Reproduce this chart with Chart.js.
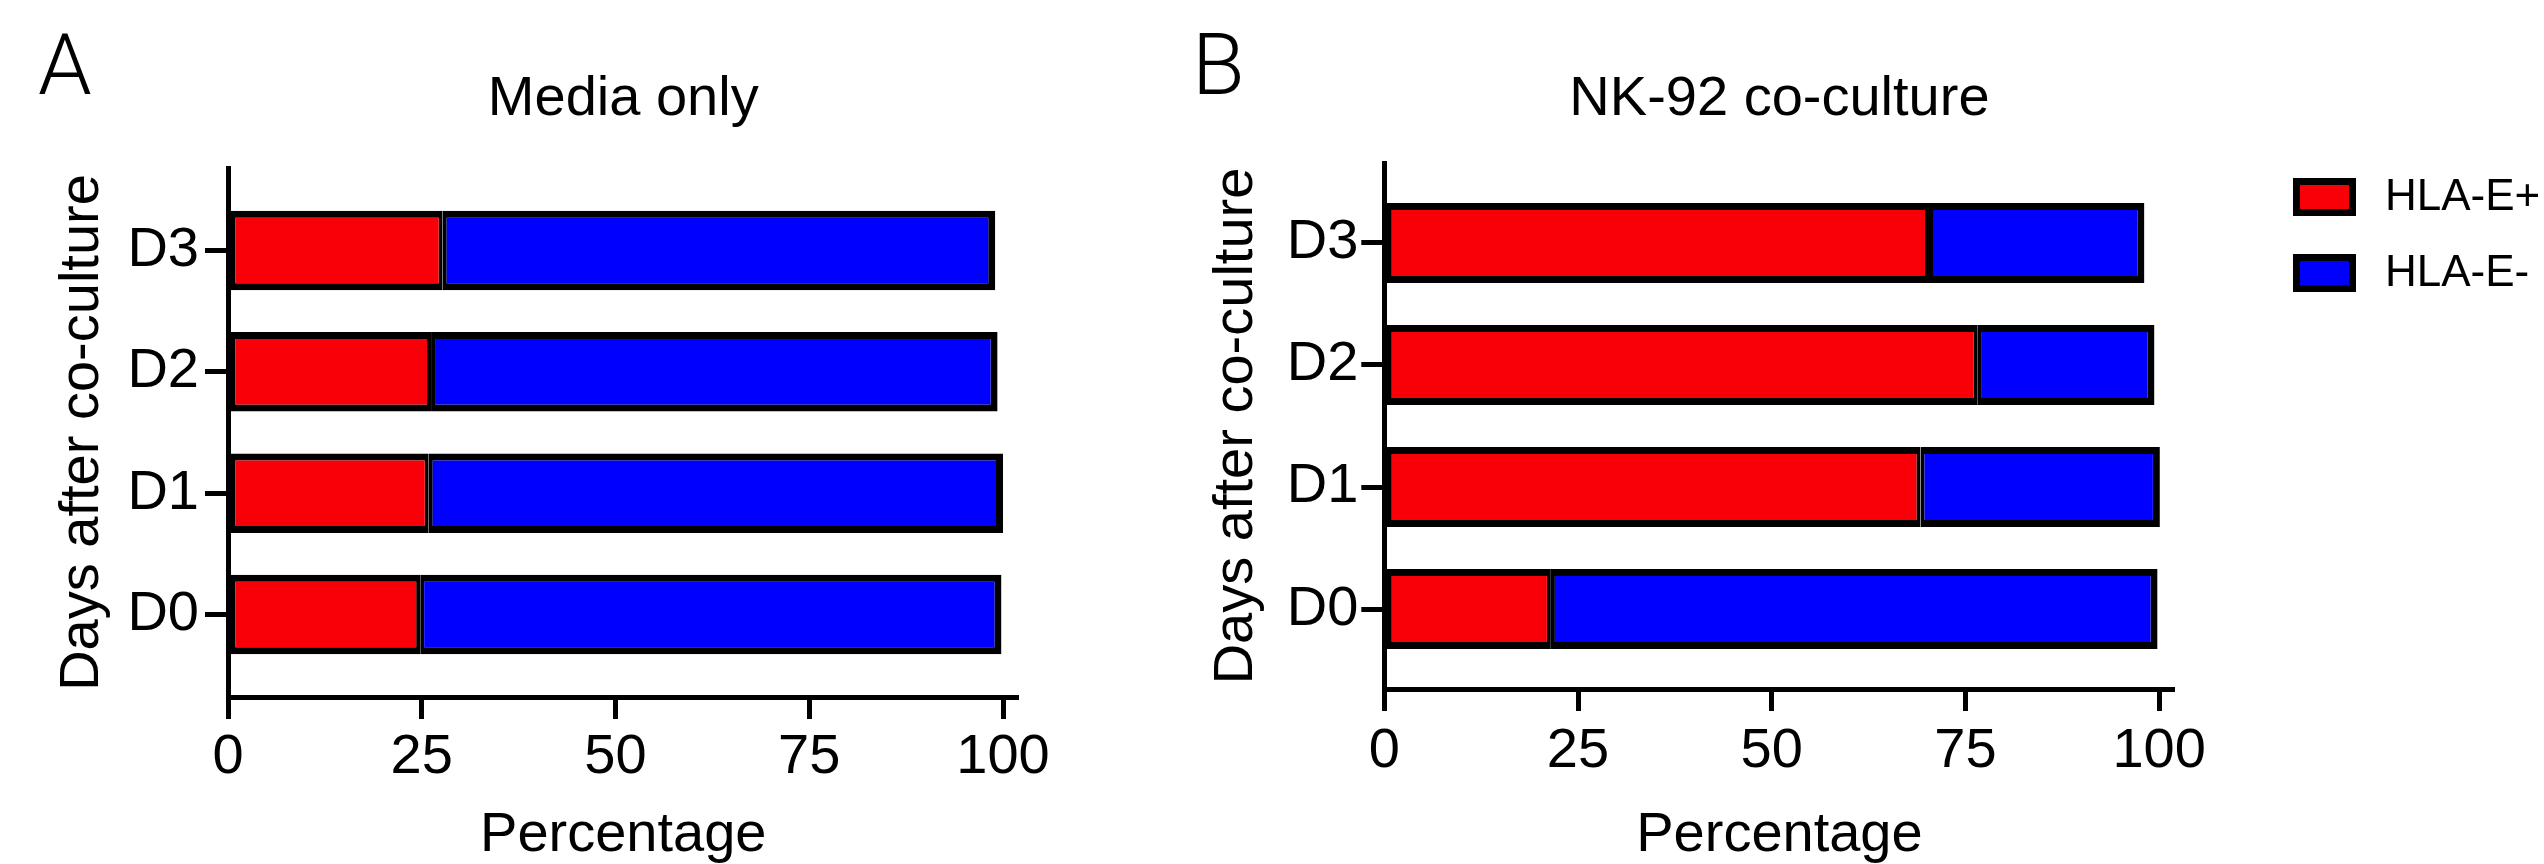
<!DOCTYPE html>
<html>
<head>
<meta charset="utf-8">
<script src="https://cdn.jsdelivr.net/npm/chart.js@4.4.1/dist/chart.umd.min.js"></script>
<style>
  html, body { margin: 0; padding: 0; background: #fff; overflow: hidden; }
  #wrap { position: relative; width: 2544px; height: 864px; }
  canvas { position: absolute; top: 0; }
  #chartA { left: 0; }
  #chartB { left: 1180px; }
</style>
</head>
<body>
<div id="wrap">
  <canvas id="chartA" width="1180" height="864"></canvas>
  <canvas id="chartB" width="1364" height="864"></canvas>
</div>
<script>
// Dados (percentagem de células)
const days = ['D0', 'D1', 'D2', 'D3'];
const seriesNames = ['HLA-E+', 'HLA-E-'];
const seriesColors = ['#f90009', '#0000fe'];
const xTicks = [0, 25, 50, 75, 100];

const mediaPos = [24.8, 25.9, 26.2, 27.7];
const mediaNeg = [75.0, 74.1, 73.1, 71.3];
const nkPos = [21.5, 69.2, 76.6, 70.3];
const nkNeg = [78.3, 30.9, 22.8, 27.8];

Chart.defaults.font.family = '"Liberation Sans", Arial, Helvetica, sans-serif';
Chart.defaults.color = '#000';

const FONT = '"Liberation Sans", Arial, Helvetica, sans-serif';

// títulos, letras do painel e legenda
const panelText = {
    id: 'panelText',
    afterDraw(chart, args, opts) {
        const { ctx, chartArea } = chart;
        ctx.save();
        ctx.fillStyle = '#000';
        ctx.textBaseline = 'alphabetic';
        ctx.textAlign = 'center';
        ctx.font = '56px ' + FONT;
        ctx.fillText(opts.title, (chartArea.left + chartArea.right) / 2, opts.titleY);
        ctx.textAlign = 'left';
        ctx.font = '300 86px Roboto, "Noto Sans", sans-serif';
        ctx.fillText(opts.letter, opts.letterX, opts.letterY);

        if (opts.legend) {
            const lg = opts.legend;
            chart.data.datasets.forEach((ds, i) => {
                const y = lg.y + i * lg.gap;
                ctx.fillStyle = '#000';
                ctx.fillRect(lg.x, y, lg.w, lg.h);
                ctx.fillStyle = ds.backgroundColor;
                ctx.fillRect(lg.x + 7, y + 7, lg.w - 14, lg.h - 14);
                ctx.fillStyle = '#000';
                ctx.font = '44px ' + FONT;
                ctx.textBaseline = 'middle';
                ctx.fillText(ds.label, lg.textX, y + lg.h / 2 + 1);
            });
        }
        ctx.restore();
    }
};

function makeDatasets(pos, neg) {
    const vals = [pos, neg];
    return seriesNames.map((name, s) => ({
        label: name,
        data: days.map((d, i) => ({ y: i, x: vals[s][i] })),
        backgroundColor: seriesColors[s],
        borderColor: '#000',
        borderWidth: s === 0 ? { top: 7, bottom: 7, left: 7, right: 4 } : { top: 7, bottom: 7, left: 4, right: 7 },
        borderSkipped: false,
        barPercentage: 0.655,
        categoryPercentage: 1
    }));
}

function makeChart(id, pos, neg, cfg) {
    const ctx = document.getElementById(id).getContext('2d');
    return new Chart(ctx, {
        type: 'bar',
        data: { datasets: makeDatasets(pos, neg) },
        options: {
            indexAxis: 'y',
            responsive: false,
            animation: false,
            layout: { padding: { top: cfg.top, right: cfg.right, bottom: 0, left: 0 } },
            plugins: {
                legend: { display: false },
                tooltip: { enabled: false },
                title: { display: false },
                panelText: cfg.text
            },
            scales: {
                x: {
                    type: 'linear',
                    stacked: true,
                    min: 0,
                    max: 102,
                    afterBuildTicks: (s) => { s.ticks = xTicks.map(v => ({ value: v })); },
                    afterFit: (s) => { s.height = cfg.xHeight; },
                    grid: { drawOnChartArea: false, drawTicks: true, tickLength: 22, tickWidth: 5, tickColor: '#000' },
                    border: { display: true, width: 5, color: '#000' },
                    ticks: { font: { size: 56 }, color: '#000', padding: cfg.xPad, maxRotation: 0 },
                    title: { display: true, text: 'Percentage', font: { size: 56, lineHeight: 1 }, color: '#000', padding: { top: 0, bottom: 0 } }
                },
                y: {
                    type: 'linear',
                    stacked: true,
                    offset: false,
                    min: -cfg.off,
                    max: days.length - 1 + cfg.off,
                    afterBuildTicks: (s) => { s.ticks = days.map((d, i) => ({ value: i })); },
                    afterFit: (s) => { s.width = cfg.yWidth; },
                    grid: { offset: false, drawOnChartArea: false, drawTicks: true, tickLength: 23, tickWidth: 5, tickColor: '#000' },
                    border: { display: true, width: 5, color: '#000' },
                    ticks: {
                        font: { size: 56 }, color: '#000', padding: cfg.yPad,
                        callback: (v) => days[v]
                    },
                    title: { display: true, text: 'Days after co-culture', font: { size: 56 }, color: '#000', padding: { top: cfg.yTitlePad, bottom: 0 } }
                }
            }
        },
        plugins: [panelText]
    });
}

makeChart('chartA', mediaPos, mediaNeg, {
    top: 168, right: 1180 - 1018.5, xHeight: 864 - 697, yWidth: 228, off: 0.68,
    xPad: 5, yPad: 6, yTitlePad: 49,
    text: { title: 'Media only', titleY: 115, letter: 'A', letterX: 38, letterY: 94 }
});

makeChart('chartB', nkPos, nkNeg, {
    top: 163, right: 1364 - 994.6, xHeight: 864 - 689, yWidth: 204.3, off: 0.655,
    xPad: 7, yPad: 3, yTitlePad: 23,
    text: {
        title: 'NK-92 co-culture', titleY: 115, letter: 'B', letterX: 12, letterY: 94,
        legend: { x: 1113, y: 178, w: 63, h: 38, gap: 76, textX: 1205 }
    }
});
</script>
</body>
</html>
